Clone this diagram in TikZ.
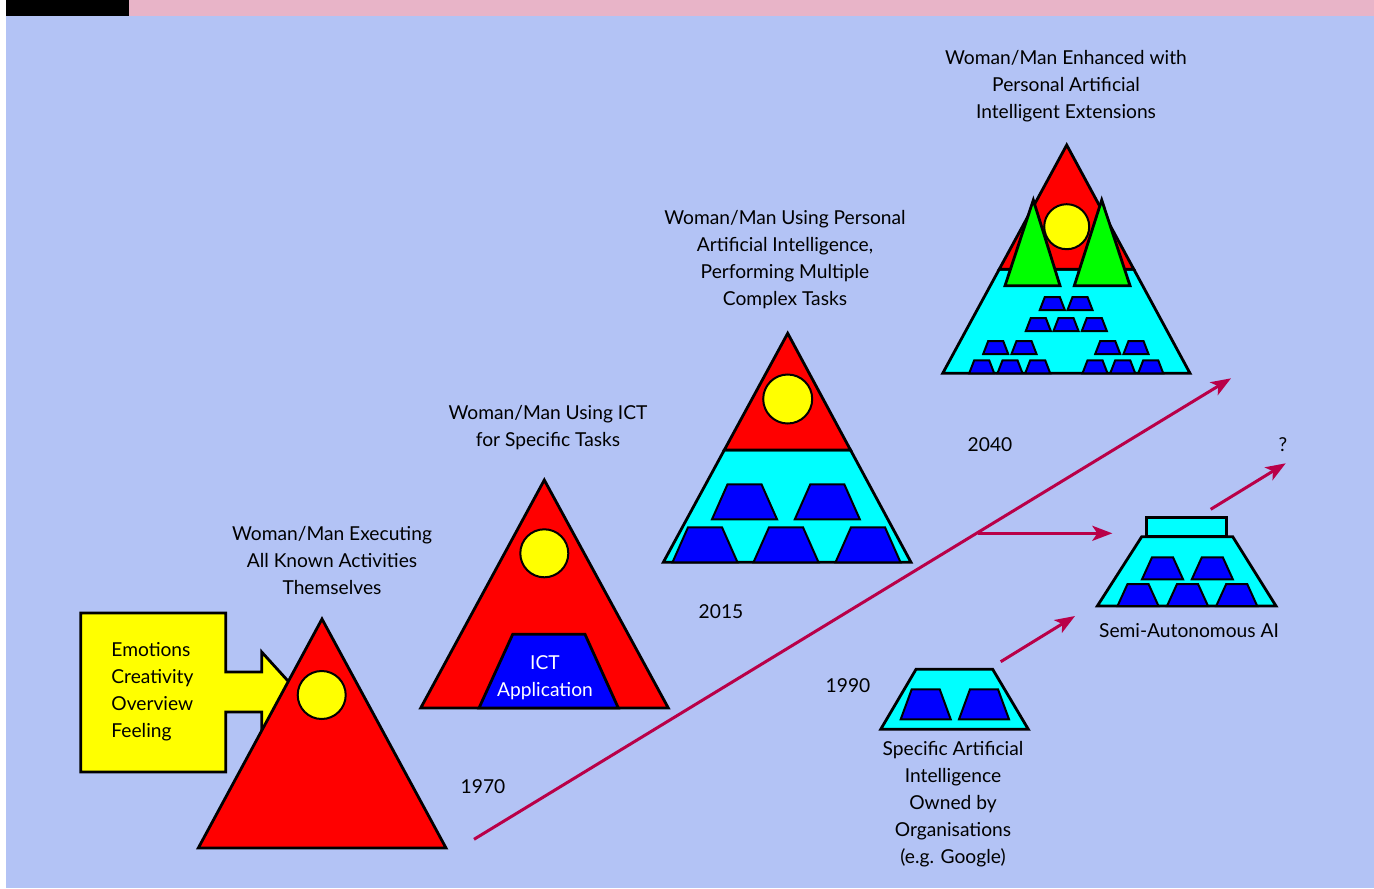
\documentclass[tikz,border=0pt]{standalone}
\usepackage{fontspec}
\setmainfont{Lato}
\usetikzlibrary{arrows.meta}
\definecolor{bgblue}{RGB}{179,195,245}
\definecolor{barpink}{RGB}{232,180,200}
\definecolor{arrowred}{RGB}{185,0,72}
\definecolor{pyrred}{RGB}{255,0,0}
\definecolor{pyrcyan}{RGB}{0,255,255}
\definecolor{pyrblue}{RGB}{0,0,255}
\definecolor{pyryellow}{RGB}{255,255,0}
\definecolor{pyrgreen}{RGB}{0,255,0}
\tikzset{
  shapeline/.style={draw=black, line width=1.4pt, line join=miter},
  smallline/.style={draw=black, line width=1pt, line join=miter},
  timearrow/.style={draw=arrowred, line width=1.5pt, -{Stealth[length=10pt,width=7.5pt,inset=2.5pt]}},
  labeltext/.style={align=center, font=\fontsize{9.6}{13.5}\selectfont, inner sep=0pt},
}
\begin{document}
\begin{tikzpicture}[x=0.5pt,y=0.5pt,yscale=-1,xscale=1]
\useasboundingbox (0,0) rectangle (1374,888);

%Background [id:bg]
\fill[bgblue] (6,16) rectangle (1374,888);
\fill[barpink] (129,0) rectangle (1374,16);
\fill[black] (6,0) rectangle (129,16);

%Shape: Callout [id:callout]
\draw[shapeline, fill=pyryellow] (80.7,613) -- (225.7,613) -- (225.7,672) -- (261.7,672) -- (261.7,652) -- (298,692) -- (261.7,732) -- (261.7,712) -- (225.7,712) -- (225.7,772) -- (80.7,772) -- cycle ;
%Shape: Triangle 1970 [id:tri1]
\draw[shapeline, fill=pyrred] (322,619) -- (446,848) -- (198.3,848) -- cycle ;
\draw[smallline, fill=pyryellow] (321.7,695) circle [radius=24] ;

%Shape: Triangle ICT [id:tri2]
\draw[shapeline, fill=pyrred] (544.3,480) -- (668.3,708) -- (420.7,708) -- cycle ;
\draw[smallline, fill=pyryellow] (544.3,553.3) circle [radius=24] ;
\draw[shapeline, fill=pyrblue] (512.7,634.3) -- (585,634.3) -- (618.3,708) -- (479,708) -- cycle ;

%Shape: Triangle 2015 [id:tri3]
\draw[shapeline, fill=pyrcyan] (724.3,450) -- (850.5,450) -- (911,562.3) -- (663.3,562.3) -- cycle ;
\draw[shapeline, fill=pyrred] (787.7,333.3) -- (850.5,450) -- (724.3,450) -- cycle ;
\draw[smallline, fill=pyryellow] (787.7,399) circle [radius=24.5] ;
\foreach \cx/\cy in {744.5/519.3, 827.3/519.3, 705/562.3, 786/562.3, 868/562.3}
  \draw[smallline, fill=pyrblue] (\cx-32.5,\cy) -- (\cx-17,\cy-35) -- (\cx+17,\cy-35) -- (\cx+32.5,\cy) -- cycle ;

%Shape: Triangle 2040 [id:tri4]
\draw[shapeline, fill=pyrcyan] (999.2,269.3) -- (1133.8,269.3) -- (1190,373.3) -- (942.7,373.3) -- cycle ;
\draw[shapeline, fill=pyrred] (1066.7,145) -- (1133.8,269.3) -- (999.2,269.3) -- cycle ;
\draw[smallline, fill=pyryellow] (1066.7,226.7) circle [radius=22.5] ;
\draw[shapeline, fill=pyrgreen] (1033.3,200) -- (1060,285.7) -- (1005,285.7) -- cycle ;
\draw[shapeline, fill=pyrgreen] (1101.7,200) -- (1130,285.7) -- (1074.3,285.7) -- cycle ;
\foreach \cx/\cy in {1052.3/310, 1080/310,
    1038.3/331, 1066/331, 1094.3/331,
    995.7/354, 1024/354, 1107.7/354, 1136/354,
    981.7/373.3, 1010/373.3, 1037.7/373.3, 1095/373.3, 1122.7/373.3, 1150.7/373.3}
  \draw[smallline, fill=pyrblue] (\cx-12.5,\cy) -- (\cx-7.5,\cy-13) -- (\cx+7.5,\cy-13) -- (\cx+12.5,\cy) -- cycle ;

%Shape: Specific AI [id:ai1990]
\draw[shapeline, fill=pyrcyan] (916,669.3) -- (992.7,669.3) -- (1028.3,729.3) -- (880.7,729.3) -- cycle ;
\foreach \cx in {925.7, 984}
  \draw[smallline, fill=pyrblue] (\cx-25,719.3) -- (\cx-14,689.3) -- (\cx+14,689.3) -- (\cx+25,719.3) -- cycle ;

%Shape: Semi-Autonomous AI [id:aisemi]
\draw[shapeline, fill=pyrcyan] (1146.7,517.7) rectangle (1226.7,536.7) ;
\draw[shapeline, fill=pyrcyan] (1141.7,536.7) -- (1232.7,536.7) -- (1276,606) -- (1097.3,606) -- cycle ;
\foreach \cx/\cy in {1162.5/579.3, 1212.3/579.3, 1138/606, 1187.5/606, 1236.7/606}
  \draw[smallline, fill=pyrblue] (\cx-20.5,\cy) -- (\cx-10.5,\cy-22) -- (\cx+10.5,\cy-22) -- (\cx+20.5,\cy) -- cycle ;

%Straight Lines [id:arrows]
\coordinate (tail1970) at (474,839.3) ;
\coordinate (head2040) at (1231,378.3) ;
\coordinate (branch) at (978.3,533.3) ;
\coordinate (headsemi) at (1112.3,533.3) ;
\coordinate (tail1990) at (1000.7,661.7) ;
\coordinate (head1990) at (1075,616) ;
\coordinate (tailsemi) at (1210.7,509.3) ;
\coordinate (headquery) at (1285.7,463.3) ;
\draw[timearrow] (tail1970) -- (head2040) ;
\draw[timearrow] (branch) -- (headsemi) ;
\draw[timearrow] (tail1990) -- (head1990) ;
\draw[timearrow] (tailsemi) -- (headquery) ;

% Text Node
\draw (111,692) node (feelings) [labeltext, align=left, anchor=west] {Emotions\\Creativity\\Overview\\Feeling};
% Text Node
\draw (545,678) node (ictapp) [labeltext, text=white] {ICT\\Application};
% Text Node
\draw (332,560) node (lblexec) [labeltext] {Woman/Man Executing\\All Known Activities\\Themselves};
% Text Node
\draw (548,428) node (lblict) [labeltext] {Woman/Man Using ICT\\for Specific Tasks};
% Text Node
\draw (785,260) node (lblpers) [labeltext] {Woman/Man Using Personal\\Artificial Intelligence,\\Performing Multiple\\Complex Tasks};
% Text Node
\draw (1066,86) node (lblenh) [labeltext] {Woman/Man Enhanced with\\Personal Artificial\\Intelligent Extensions};
% Text Node
\draw (953,804) node (lblspec) [labeltext] {Specific Artificial\\Intelligence\\Owned by\\Organisations\\(e.g. Google)};
% Text Node
\draw (1189,631) node (lblsemi) [labeltext] {Semi-Autonomous AI};
% Text Node
\draw (483,787) node (yr1970) [labeltext] {1970};
\draw (721,612) node (yr2015) [labeltext] {2015};
\draw (990,445) node (yr2040) [labeltext] {2040};
\draw (848,686) node (yr1990) [labeltext] {1990};
\draw (1283,445) node (yrquery) [labeltext] {?};

\end{tikzpicture}
\end{document}
